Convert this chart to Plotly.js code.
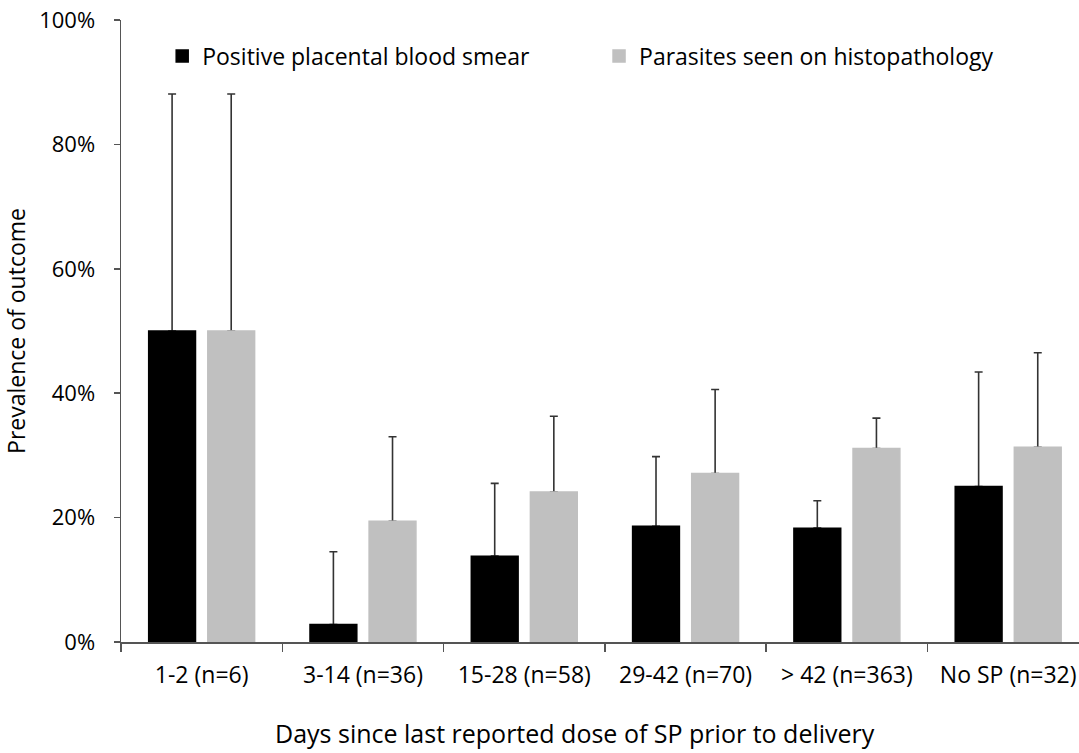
<!DOCTYPE html>
<html>
<head>
<meta charset="utf-8">
<script src="https://cdn.plot.ly/plotly-3.0.1.min.js"></script>
<style>html,body{margin:0;padding:0;background:#fff;}#chart{width:1079px;height:753px;}</style>
</head>
<body>
<div id="chart"></div>
<script>
const categories = ["1-2 (n=6)", "3-14 (n=36)", "15-28 (n=58)", "29-42 (n=70)", "> 42 (n=363)", "No SP (n=32)"];
const smearName = "Positive placental blood smear";
const histoName = "Parasites seen on histopathology";
const smearValues = [50.0, 2.8, 13.8, 18.6, 18.3, 25.0];
const smearUpper = [88.1, 14.5, 25.5, 29.8, 22.7, 43.4];
const histoValues = [50.0, 19.4, 24.1, 27.1, 31.1, 31.3];
const histoUpper = [88.1, 33.0, 36.3, 40.6, 36.0, 46.5];
const yTickVals = [0, 20, 40, 60, 80, 100];
const xTitle = "Days since last reported dose of SP prior to delivery";
const yTitle = "Prevalence of outcome";

const FONT = "'Open Sans', sans-serif";
const errColor = "#333333";
const smearColor = "#000000";
const histoColor = "#c0c0c0";

function upperErr(vals, upper) { return upper.map((u, i) => u - vals[i]); }

function errTrace(vals, upper, group) {
  return {
    type: "bar", x: categories, y: vals, offsetgroup: group, showlegend: false, hoverinfo: "skip",
    marker: {color: "rgba(0,0,0,0)", line: {width: 0}},
    error_y: {type: "data", symmetric: false, array: upperErr(vals, upper), arrayminus: vals.map(() => 0),
              color: errColor, thickness: 1.6, width: 4}
  };
}
function barTrace(vals, name, color, group, legendId) {
  return {
    type: "bar", name: name, x: categories, y: vals, offsetgroup: group, legend: legendId,
    marker: {color: color, line: {color: color, width: 1.5}}
  };
}

const traces = [
  errTrace(smearValues, smearUpper, "smear"),
  barTrace(smearValues, smearName, smearColor, "smear", "legend"),
  errTrace(histoValues, histoUpper, "histo"),
  barTrace(histoValues, histoName, histoColor, "histo", "legend2")
];

const legendCommon = {orientation: "h", yanchor: "middle", xanchor: "left", y: 0.942,
  font: {family: FONT, size: 23, color: "#000"}, bgcolor: "rgba(0,0,0,0)", itemwidth: 30};

const layout = {
  width: 1079, height: 753,
  margin: {l: 121, r: 0, t: 20, b: 111},
  paper_bgcolor: "#ffffff", plot_bgcolor: "#ffffff",
  font: {family: FONT, color: "#000000", size: 22},
  barmode: "group", bargap: 0.267, bargroupgap: 0.208,
  showlegend: true,
  legend: Object.assign({}, legendCommon, {x: 0.043}),
  legend2: Object.assign({}, legendCommon, {x: 0.499}),
  xaxis: {
    type: "category", range: [-0.5, 5.439], fixedrange: true, automargin: false,
    showline: true, linecolor: "#555", linewidth: 1.5,
    ticks: "outside", tickson: "boundaries", ticklen: 8, tickcolor: "#555", tickwidth: 1.5,
    ticklabelstandoff: 12,
    showgrid: false, zeroline: false,
    tickfont: {family: FONT, size: 23, color: "#000"}
  },
  yaxis: {
    range: [0, 100], tickvals: yTickVals, ticktext: yTickVals.map(v => v + "%"), automargin: false,
    showline: true, linecolor: "#555", linewidth: 1.5,
    ticks: "outside", ticklen: 6, tickcolor: "#555", tickwidth: 1.5,
    ticklabelstandoff: 14,
    showgrid: false, zeroline: false,
    tickfont: {family: FONT, size: 22, color: "#000"},
    title: {text: yTitle, font: {family: FONT, size: 23, color: "#000"}, standoff: 20}
  },
  annotations: [{
    text: xTitle, xref: "paper", yref: "paper", x: 0.4744, y: -0.147,
    xanchor: "center", yanchor: "middle", showarrow: false,
    font: {family: FONT, size: 25, color: "#000"}
  }]
};

Plotly.newPlot("chart", traces, layout, {displayModeBar: false, staticPlot: true});
</script>
</body>
</html>
